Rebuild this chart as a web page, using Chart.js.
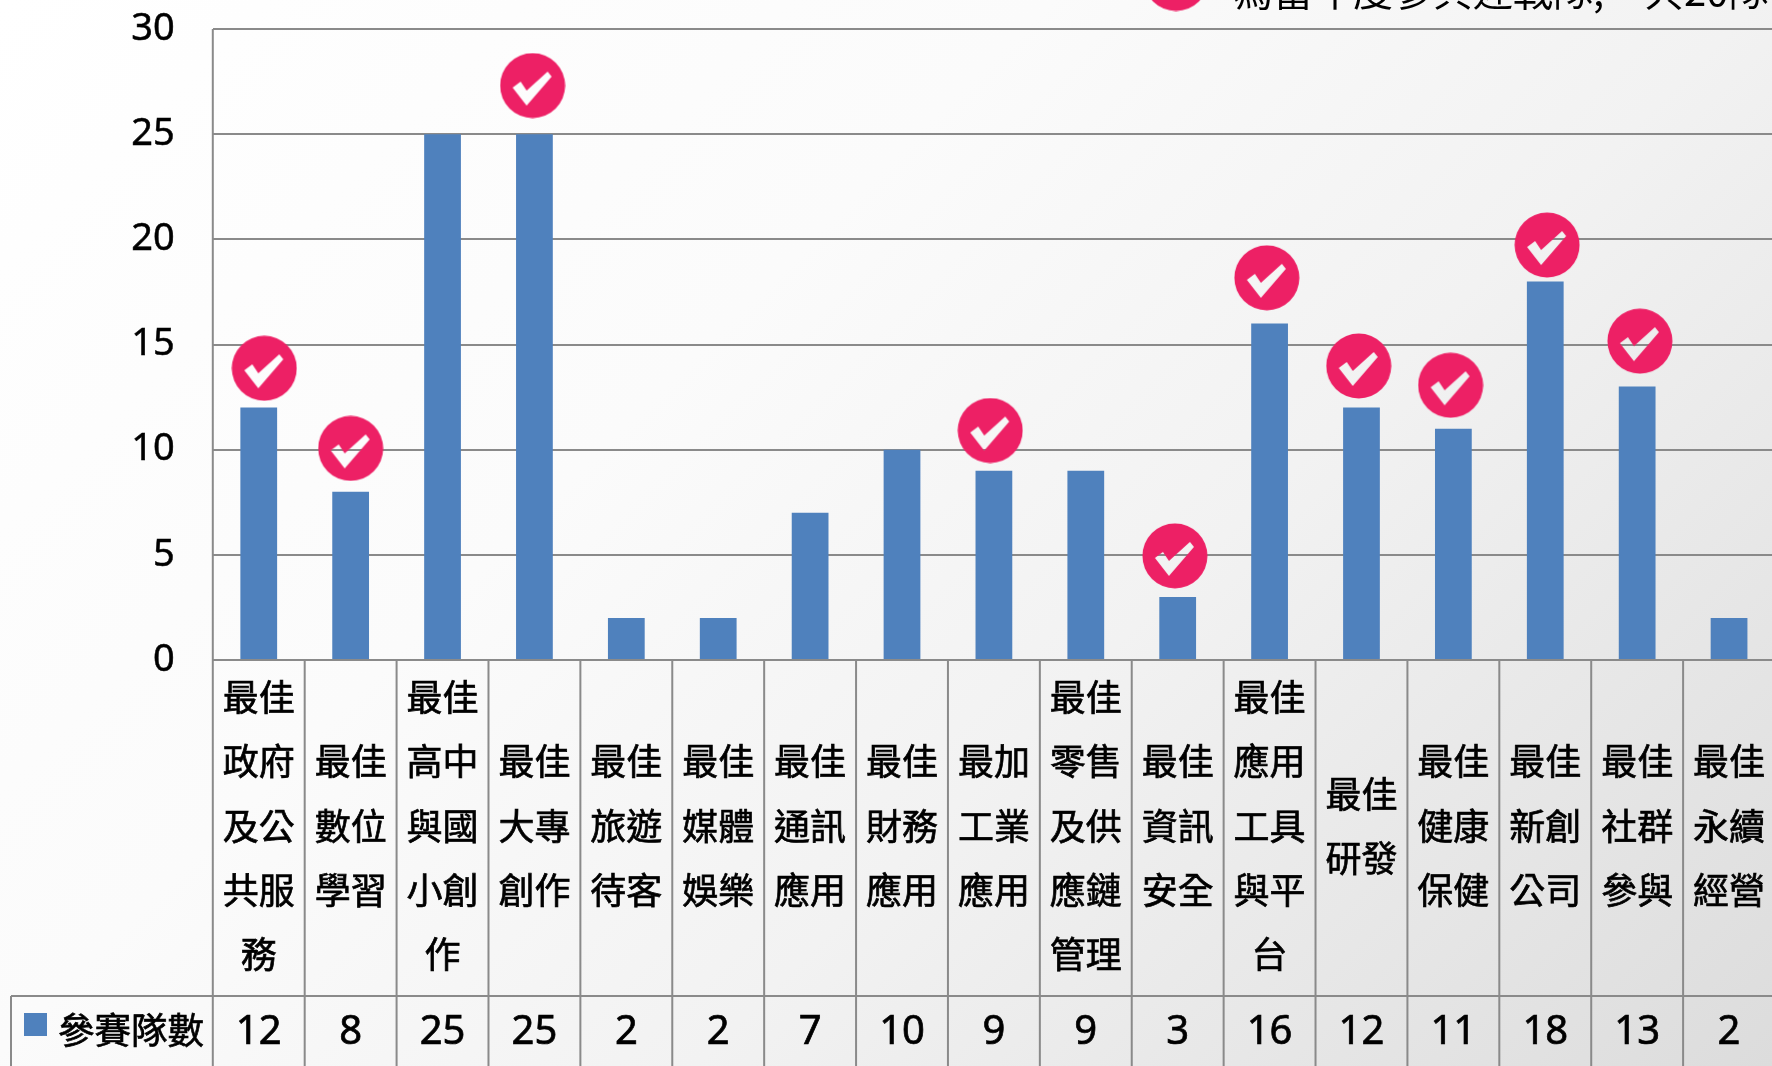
<!DOCTYPE html>
<html><head><meta charset="utf-8">
<style>
html,body{margin:0;padding:0;width:1772px;height:1066px;overflow:hidden;background:linear-gradient(135deg,#ffffff 0%,#fbfbfb 37%,#f2f2f2 62%,#dcdcdc 100%);}
#wrap{position:absolute;left:0;top:-100px;width:1809px;height:1200px;}
</style>
<script src="https://cdn.jsdelivr.net/npm/chart.js@4"></script>
</head><body><div id="wrap"><canvas id="c" width="1809" height="1200"></canvas></div>
<script>
const categories=[["最佳","政府","及公","共服","務"],["最佳","數位","學習"],["最佳","高中","與國","小創","作"],["最佳","大專","創作"],["最佳","旅遊","待客"],["最佳","媒體","娛樂"],["最佳","通訊","應用"],["最佳","財務","應用"],["最加","工業","應用"],["最佳","零售","及供","應鏈","管理"],["最佳","資訊","安全"],["最佳","應用","工具","與平","台"],["最佳","研發"],["最佳","健康","保健"],["最佳","新創","公司"],["最佳","社群","參與"],["最佳","永續","經營"]];
const teamCounts=[12,8,25,25,2,2,7,10,9,9,3,16,12,11,18,13,2];
const seriesName="參賽隊數";
const yTicks=[0,5,10,15,20,25,30];
const markerX=[0.06,1.0,2.98,7.96,9.97,10.97,11.97,12.97,14.02,15.03];
const markerY=[13.87,10.06,27.31,10.91,4.95,18.17,13.98,13.06,19.73,15.16];
const legendText="為當年度參與迎戰隊,一共20隊";
const F='"Noto Sans CJK TC","Noto Sans",sans-serif';
const GRID='#8a8a8a';

function makeMarker(){
  const s=66,cv=document.createElement('canvas');cv.width=s;cv.height=s;
  const g=cv.getContext('2d');
  g.fillStyle='#ed2065';g.beginPath();g.arc(33,33,32.5,0,Math.PI*2);g.fill();
  g.globalCompositeOperation='destination-out';
  g.beginPath();g.moveTo(13,35);g.lineTo(21,29);g.lineTo(27,38);g.lineTo(48,19);g.lineTo(52,24);g.lineTo(27,53);g.closePath();g.fill();
  return cv;
}
const marker=makeMarker();

function bold(c,t,x,y){c.fillText(t,x,y);c.strokeText(t,x,y);}

const tablePlugin={id:'table',
 afterDraw(ch){
  const c=ch.ctx,x=ch.scales.x,area=ch.chartArea;
  const tableTop=area.bottom+336,bottom=ch.height;
  const step=(area.right-area.left)/categories.length;
  c.save();
  c.strokeStyle=GRID;c.lineWidth=2;
  c.beginPath();
  c.moveTo(area.left,area.top);c.lineTo(area.left,bottom);
  for(let i=0;i<=categories.length;i++){const px=x.getPixelForValue(i)+step/2;c.moveTo(px,area.bottom);c.lineTo(px,bottom);}
  c.moveTo(11,tableTop);c.lineTo(area.right,tableTop);
  c.moveTo(11,tableTop);c.lineTo(11,bottom);
  c.stroke();
  c.fillStyle='#000';c.strokeStyle='#000';c.lineWidth=0.7;c.textAlign='center';c.textBaseline='middle';
  const cellMid=area.bottom+168,lh=64.3;
  categories.forEach((lines,i)=>{
    const px=x.getPixelForValue(i);
    c.font='36px '+F;
    lines.forEach((t,j)=>bold(c,t,px,cellMid+(j-(lines.length-1)/2)*lh-2));
    c.font='40px "Noto Sans",sans-serif';
    bold(c,String(teamCounts[i]),px,tableTop+37);
  });
  c.fillStyle='#4f81bd';c.fillRect(24,tableTop+17,23,23);
  c.fillStyle='#000';c.textAlign='left';c.font='36.5px '+F;
  bold(c,seriesName,58,tableTop+34);
  c.restore();
 }};

new Chart(document.getElementById('c'),{
 type:'bar',
 data:{labels:categories.map(l=>l.join('')),datasets:[
  {type:'line',label:'marker',xAxisID:'xm',showLine:false,order:0,
   data:markerX.map((v,i)=>({x:v,y:markerY[i]})),pointStyle:marker,pointRadius:33,pointHoverRadius:33},
  {label:seriesName,data:teamCounts,backgroundColor:'#4f81bd',borderWidth:0,barPercentage:0.4,categoryPercentage:1,grouped:false,order:1}
 ]},
 options:{responsive:false,animation:false,events:[],
  layout:{padding:{top:129,right:16,left:0,bottom:0}},
  plugins:{legend:{display:false},tooltip:{enabled:false},title:{display:false}},
  scales:{
   x:{type:'category',offset:true,grid:{display:false},border:{display:false},ticks:{display:false},
      afterFit(s){s.height=1200-760;}},
   xm:{type:'linear',min:-0.5,max:16.5,offset:false,display:false},
   y:{min:0,max:30,ticks:{stepSize:5,color:'#000',padding:38,textStrokeColor:'#000',textStrokeWidth:0.5,font:{family:'"Noto Sans",sans-serif',size:38},callback:v=>yTicks.includes(v)?v:''},
      grid:{color:GRID,lineWidth:2,drawTicks:false},border:{display:false},
      afterFit(s){s.width=212.8;}}
  }},
 plugins:[tablePlugin,{id:'frame',
  afterDraw(ch){const c=ch.ctx;c.save();
   c.drawImage(marker,1176-33,100-21.5-33);
   c.fillStyle='#000';c.font='40px '+F;c.textBaseline='alphabetic';c.textAlign='left';c.fillText(legendText,1233,106);c.restore();}}]
});
</script></body></html>
